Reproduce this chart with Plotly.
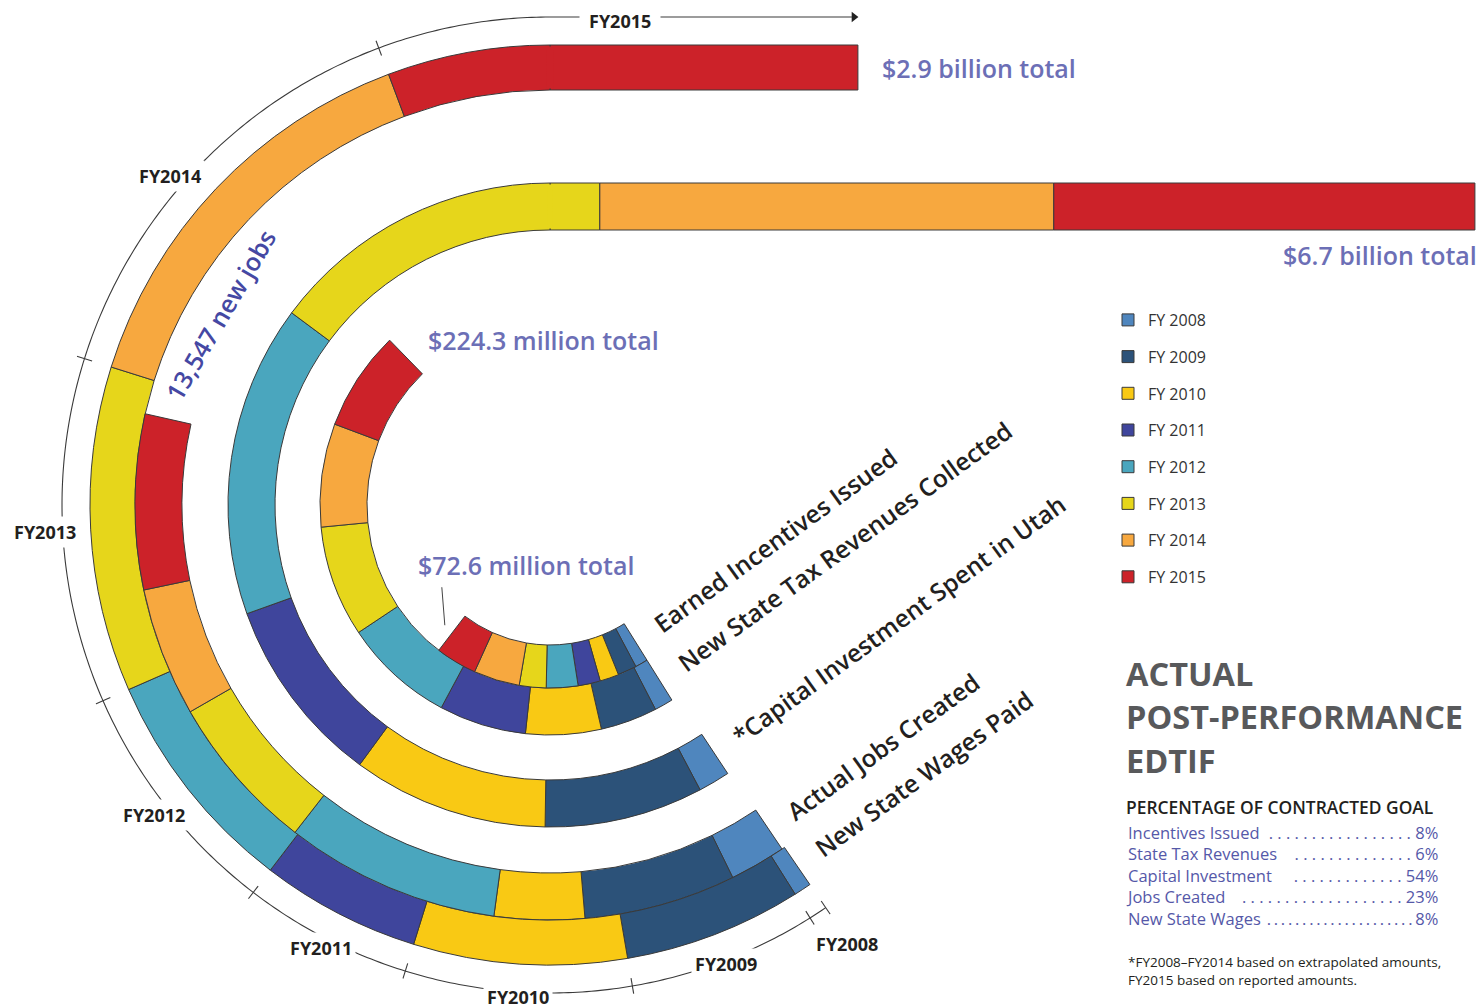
import numpy as np
import plotly.graph_objects as go

# ---------------- data ----------------
years = ["FY 2008", "FY 2009", "FY 2010", "FY 2011", "FY 2012", "FY 2013", "FY 2014", "FY 2015"]
timeline_labels = ["FY2008", "FY2009", "FY2010", "FY2011", "FY2012", "FY2013", "FY2014", "FY2015"]
year_colors = ["#4F86BE", "#2C5279", "#F9C914", "#3F459C", "#4AA6BE", "#E6D61B", "#F7A83F", "#CC2229"]

ring_names = ["Earned Incentives Issued", "New State Tax Revenues Collected",
              "*Capital Investment Spent in Utah", "Actual Jobs Created", "New State Wages Paid"]
incentives_issued = [4.2, 6.3, 6.3, 7.4, 10.5, 8.9, 15.3, 13.7]          # $ million, total 72.6
tax_revenues = [6.3, 19.2, 25.5, 29.5, 37.6, 37.6, 34.9, 33.7]             # $ million, total 224.3
capital_investment = [98, 491, 606, 583, 966, 1078, 1493, 1385]            # $ million, total 6,700
jobs_created = [780, 2110, 1250, 0, 2987, 2200, 1790, 2430]                # jobs, total 13,547
wages_paid = [25, 256, 307, 230, 329, 468, 592, 693]                       # $ million, total 2,900
ring_values = [incentives_issued, tax_revenues, capital_investment, jobs_created, wages_paid]
total_labels = ["$72.6 million total", "$224.3 million total", "$6.7 billion total",
                "13,547 new jobs", "$2.9 billion total"]

goal_items = ["Incentives Issued", "State Tax Revenues", "Capital Investment", "Jobs Created", "New State Wages"]
goal_pct = ["8%", "6%", "54%", "23%", "8%"]
goal_dots = [". " * 17, ". " * 14, ". " * 13, ". " * 19, ".\u2009" * 21]

# ---------------- geometry / style ----------------
W, H = 1484, 1008          # page size; coordinates below are page pixels
OFF = 8                    # default page margin of the html body
FW, FH = W - OFF, H - OFF  # figure size
CX, CY = 550, 505
RMAX = 496
ROT = -57
R_IN = [140, 183, 275, 368, 415]
R_OUT = [183, 230, 322, 415, 460]
A0 = [-58, -58, -56.5, -56, -55.6]
PX_PER_UNIT = [2.696, 2.696, 0.30406, 0.06895, 0.6707]
R_TL = 488
LABEL_NUDGE = [0, 0, 0, 0, 0, 0, 2.5, 0]
FONT = "Open Sans"
OUTLINE = "#3a3a3a"
TOTAL_COLOR = "#6C6FB6"


def pt(r, ang_deg):
    a = np.radians(ang_deg)
    return CX + r * np.cos(a), CY - r * np.sin(a)


geo = []
for j, vals in enumerate(ring_values):
    rm = (R_IN[j] + R_OUT[j]) / 2
    cap = np.radians(270 + A0[j]) * rm
    lens = np.asarray(vals, float) * PX_PER_UNIT[j]
    ends = np.cumsum(lens)
    starts = ends - lens
    off = ROT - A0[j]
    geo.append(dict(
        rm=rm,
        arc_s=np.degrees(np.minimum(starts, cap) / rm) + off,
        arc_e=np.degrees(np.minimum(ends, cap) / rm) + off,
        st_s=np.maximum(starts, cap) - cap,
        st_e=np.maximum(ends, cap) - cap,
        end_ang=A0[j] - np.degrees(min(ends[-1], cap) / rm),
        straight=max(ends[-1] - cap, 0.0),
    ))

top_theta = ROT + 270
fig = go.Figure()

for i, yr in enumerate(years):
    th, wd, base, rr, lw = [], [], [], [], []
    cov = []
    bx, bb, by, bw = [], [], [], []
    for j in range(5):
        g = geo[j]
        w = g["arc_e"][i] - g["arc_s"][i]
        L = g["st_e"][i] - g["st_s"][i]
        if w > 1e-9:
            th.append((g["arc_s"][i] + g["arc_e"][i]) / 2)
            wd.append(w)
            base.append(R_IN[j])
            rr.append(R_OUT[j] - R_IN[j])
            lw.append(1)
            if L > 1e-9:
                cov.append(j)
        if L > 1e-9:
            bx.append(L)
            bb.append(CX + g["st_s"][i])
            by.append(CY - g["rm"])
            bw.append(R_OUT[j] - R_IN[j])
    # seamless joint where a segment turns from the arc into the straight bar
    for j in cov:
        th.append(top_theta)
        wd.append(1.0)
        base.append(R_IN[j] + 1.5)
        rr.append(R_OUT[j] - R_IN[j] - 3)
        lw.append(0)
    fig.add_trace(go.Barpolar(
        r=rr, theta=th, width=wd, base=base, name=yr, legendgroup=yr,
        marker=dict(color=year_colors[i], line=dict(color=OUTLINE, width=lw)),
        hoverinfo="skip"))
    if bx:
        fig.add_trace(go.Bar(
            x=bx, y=by, base=bb, width=bw, orientation="h", legendgroup=yr, showlegend=False,
            marker=dict(color=year_colors[i], line=dict(color=OUTLINE, width=1)),
            hoverinfo="skip", xaxis="x", yaxis="y"))

# ---------------- FY timeline around the outer ring ----------------
g5 = geo[4]
bounds = np.concatenate([[g5["arc_s"][0]], g5["arc_e"]])
fig.add_trace(go.Scatterpolar(
    r=[R_TL] * 400, theta=np.linspace(bounds[0], top_theta, 400), mode="lines",
    line=dict(color=OUTLINE, width=1.1), showlegend=False, hoverinfo="skip"))
tr, tt = [], []
for b in bounds:
    if b < top_theta - 0.01:
        tr += [R_TL - 8, R_TL + 8, None]
        tt += [b, b, None]
fig.add_trace(go.Scatterpolar(r=tr, theta=tt, mode="lines", line=dict(color=OUTLINE, width=1.1),
                              showlegend=False, hoverinfo="skip"))
end5 = CX + g5["straight"]
fig.add_trace(go.Scatter(x=[CX, end5 - 6], y=[CY - R_TL] * 2, mode="lines",
                         line=dict(color=OUTLINE, width=1.1), showlegend=False, hoverinfo="skip"))
fig.add_trace(go.Scatter(x=[end5 - 4], y=[CY - R_TL], mode="markers",
                         marker=dict(symbol="triangle-right", size=9, color="#222"),
                         showlegend=False, hoverinfo="skip"))

ann = []
TLF = dict(family=FONT, size=18, color="#231F20", weight=700)
for i, lab in enumerate(timeline_labels):
    if i < 7:
        mid = (g5["arc_s"][i] + g5["arc_e"][i]) / 2
        ang = ROT - mid + LABEL_NUDGE[i]
        rl = 530 if i == 0 else R_TL + 4 + 14 * max(0.0, -np.cos(np.radians(ang)))
        x, y = pt(rl, ang)
        if i == 0:
            x, y = x + 6, y - 4
        ann.append(dict(x=x, y=y, xref="x", yref="y", text=lab, showarrow=False, font=TLF,
                        bgcolor="white" if i > 0 else "rgba(0,0,0,0)", borderpad=3))
    else:
        ann.append(dict(x=CX + 70, y=CY - R_TL + 4, xref="x", yref="y", text="\u2002" + lab + "\u2002",
                        showarrow=False, font=TLF, bgcolor="white", borderpad=0))

# ---------------- ring names ----------------
PHI = 36
FS = 24.5
Hb = 1.36 * FS + 2
d = 0.28 * FS + 1
for j, name in enumerate(ring_names):
    rm = geo[j]["rm"]
    a = A0[j] + np.degrees(23 / rm)
    bxp, byp = pt(rm, a)
    ann.append(dict(x=bxp - (Hb - d) * np.sin(np.radians(PHI)) + 6, y=byp + d * np.cos(np.radians(PHI)) + 8,
                    xref="x", yref="y", xanchor="left", yanchor="bottom", text=name, showarrow=False,
                    textangle=-PHI, font=dict(family=FONT, size=FS, color="#231F20", weight=600)))

# ---------------- totals ----------------
TF = dict(family=FONT, size=25, color=TOTAL_COLOR, weight=600)
p1 = pt(geo[0]["rm"], geo[0]["end_ang"])
fig.add_trace(go.Scatter(x=[p1[0] - 7, p1[0] - 10], y=[p1[1] - 8, p1[1] - 46], mode="lines",
                         line=dict(color="#444", width=1), showlegend=False, hoverinfo="skip"))
ann.append(dict(x=p1[0] - 36, y=p1[1] - 68, xref="x", yref="y", xanchor="left", yanchor="middle",
                text=total_labels[0], showarrow=False, font=TF))
p2 = pt(R_OUT[1], geo[1]["end_ang"])
ann.append(dict(x=p2[0] + 36, y=p2[1], xref="x", yref="y", xanchor="left", yanchor="middle",
                text=total_labels[1], showarrow=False, font=TF))
ann.append(dict(x=CX + geo[2]["straight"] + 4, y=CY - R_IN[2] + 25, xref="x", yref="y",
                xanchor="right", yanchor="middle", text=total_labels[2], showarrow=False, font=TF))
ang4 = geo[3]["end_ang"] - 17.5
p4 = pt(geo[3]["rm"] - 13, ang4)
ann.append(dict(x=p4[0] - 3, y=p4[1], xref="x", yref="y", text=total_labels[3], showarrow=False,
                textangle=-((ang4 % 360) - 90),
                font=dict(family=FONT, size=25, color="#4548A3", weight=600)))
ann.append(dict(x=CX + g5["straight"] + 22, y=CY - g5["rm"], xref="x", yref="y", xanchor="left",
                yanchor="middle", text=total_labels[4], showarrow=False, font=TF))

# ---------------- right-hand text block ----------------
for k, line in enumerate(["ACTUAL", "POST-PERFORMANCE", "EDTIF"]):
    ann.append(dict(x=1124, y=673 + 43.5 * k, xref="x", yref="y", xanchor="left", yanchor="middle",
                    text=line, showarrow=False, font=dict(family=FONT, size=32.5, color="#58595B", weight=700)))
ann.append(dict(x=1124, y=807, xref="x", yref="y", xanchor="left", yanchor="middle",
                text="PERCENTAGE OF CONTRACTED GOAL", showarrow=False,
                font=dict(family=FONT, size=17.4, color="#231F20", weight=600)))
GF = dict(family=FONT, size=16.5, color="#5558A8")
block_mid = 832.5 + 2 * 1.3 * GF["size"]
ann.append(dict(x=1124, y=block_mid, xref="x", yref="y", xanchor="left", yanchor="middle", align="left",
                text="<br>".join(goal_items), showarrow=False, font=GF))
ann.append(dict(x=1440, y=block_mid, xref="x", yref="y", xanchor="right", yanchor="middle", align="right",
                text="<br>".join(dt + p for dt, p in zip(goal_dots, goal_pct)), showarrow=False, font=GF))
ann.append(dict(x=1126, y=971, xref="x", yref="y", xanchor="left", yanchor="middle", align="left",
                text="*FY2008\u2013FY2014 based on extrapolated amounts,<br>FY2015 based on reported amounts.",
                showarrow=False, font=dict(family=FONT, size=13.5, color="#231F20")))

pcx, pcy = CX - OFF, CY - OFF   # polar centre in figure pixels
fig.update_layout(
    width=FW, height=FH, autosize=False, margin=dict(l=0, r=0, t=0, b=0, pad=0),
    paper_bgcolor="white", plot_bgcolor="rgba(0,0,0,0)",
    xaxis=dict(range=[OFF, W], domain=[0, 1], visible=False, fixedrange=True),
    yaxis=dict(range=[H, OFF], domain=[0, 1], visible=False, fixedrange=True),
    barmode="overlay",
    polar=dict(
        domain=dict(x=[(pcx - RMAX) / FW, (pcx + RMAX) / FW],
                    y=[(FH - pcy - RMAX) / FH, (FH - pcy + RMAX) / FH]),
        bgcolor="rgba(0,0,0,0)", barmode="overlay",
        radialaxis=dict(range=[0, RMAX], visible=False),
        angularaxis=dict(rotation=ROT, direction="clockwise", visible=False)),
    showlegend=True,
    legend=dict(x=(1108 - OFF) / FW, y=1 - (303 - OFF) / FH, xanchor="left", yanchor="top",
                traceorder="grouped", tracegroupgap=12.9, bgcolor="rgba(0,0,0,0)",
                font=dict(family=FONT, size=16, color="#333333")),
    annotations=ann,
)

fig.write_html("out.html")
